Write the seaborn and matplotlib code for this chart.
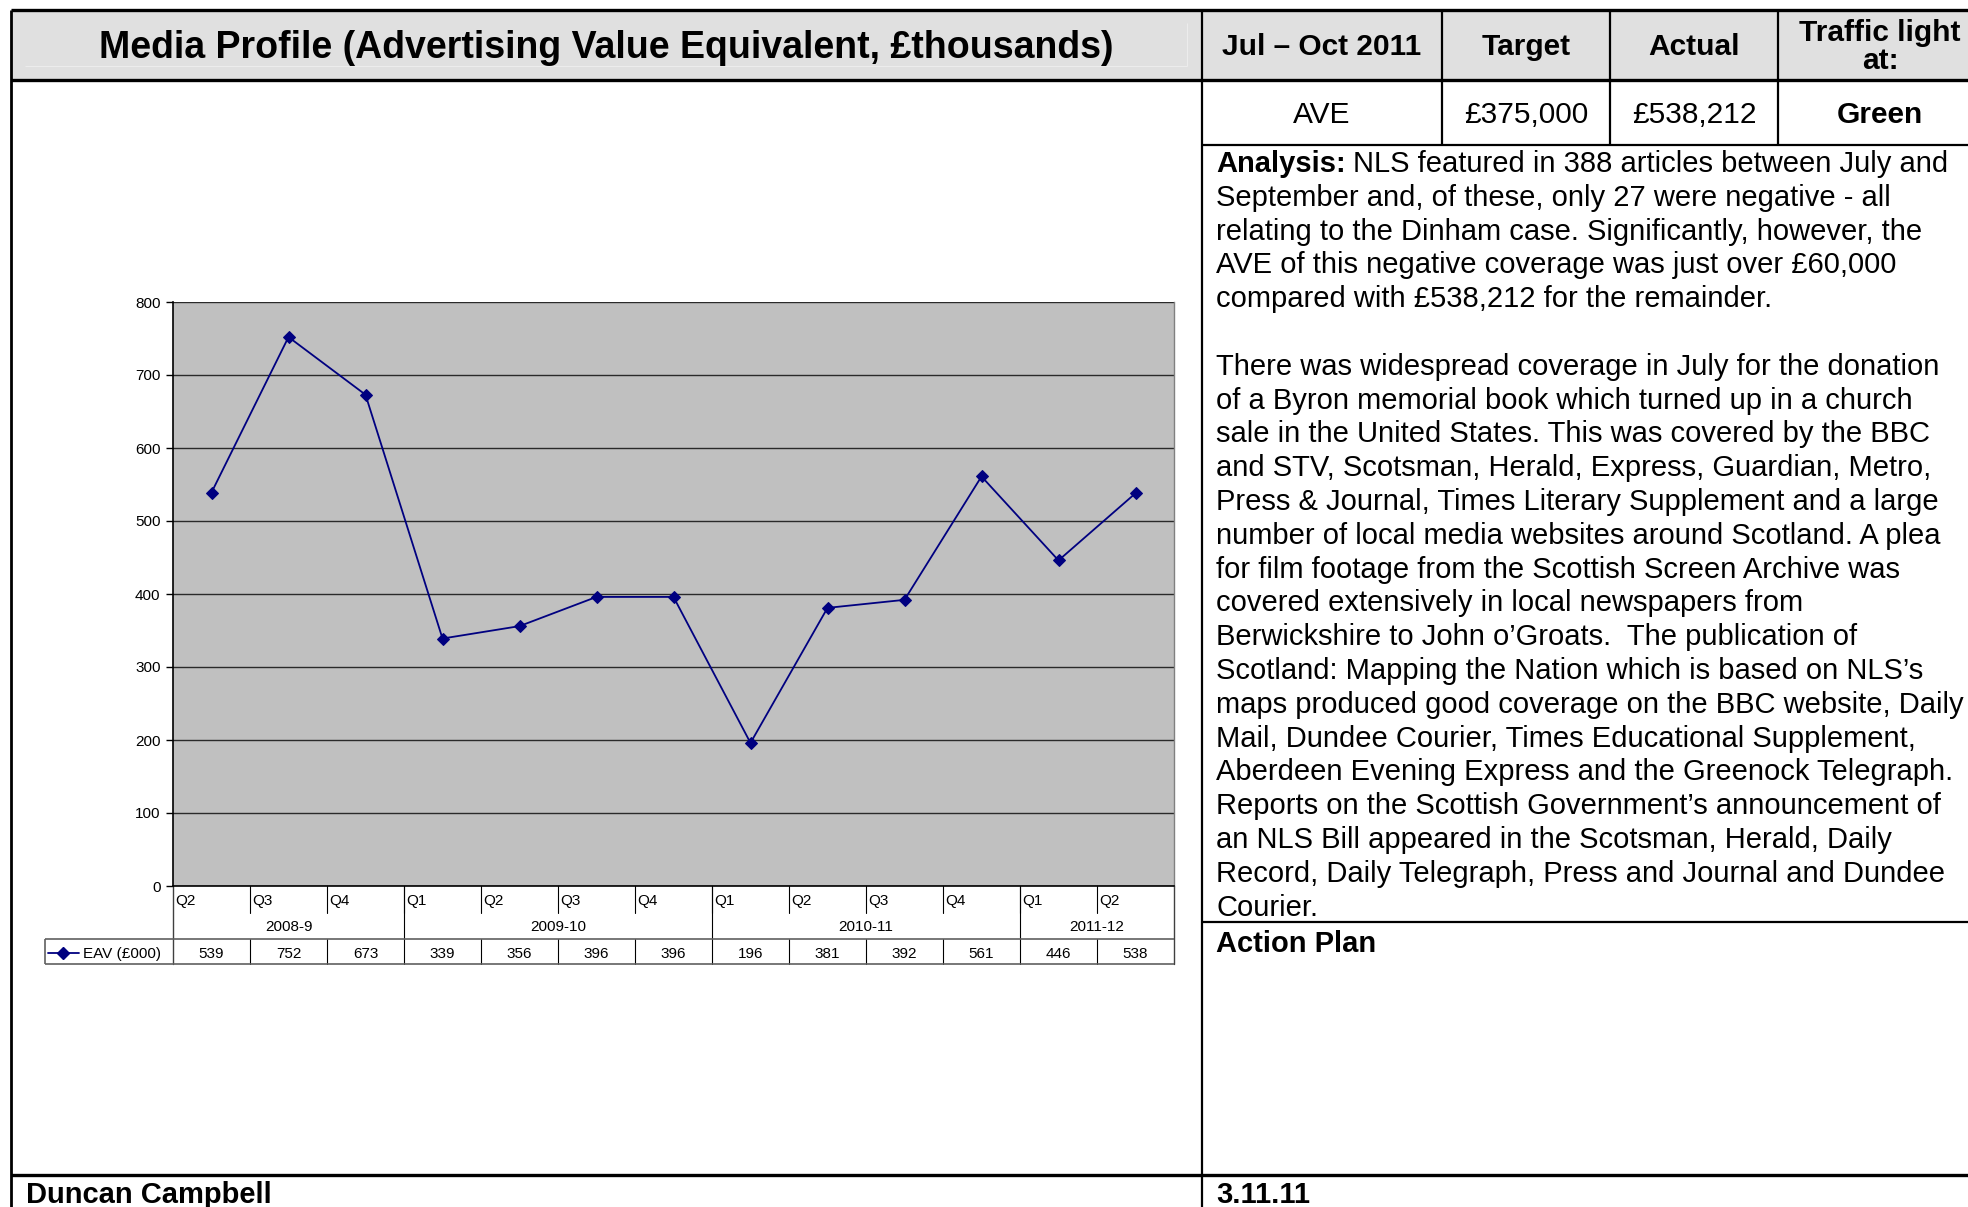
import numpy as np
import pandas as pd
import matplotlib
matplotlib.use("Agg")
import matplotlib.pyplot as plt
from matplotlib.patches import Rectangle
from matplotlib.lines import Line2D
from matplotlib.transforms import blended_transform_factory
import seaborn as sns

# data
quarters = ["Q2", "Q3", "Q4", "Q1", "Q2", "Q3", "Q4", "Q1", "Q2", "Q3", "Q4", "Q1", "Q2"]
years = ["2008-9", "2009-10", "2010-11", "2011-12"]
year_span = [3, 4, 4, 2]
eav = [539, 752, 673, 339, 356, 396, 396, 196, 381, 392, 561, 446, 538]
series_name = "EAV (£000)"

header_cols = ["Jul – Oct 2011", "Target", "Actual", "Traffic light\nat:"]
row_vals = ["AVE", "£375,000", "£538,212", "Green"]

analysis_lines = [
    "NLS featured in 388 articles between July and",
    "September and, of these, only 27 were negative - all",
    "relating to the Dinham case. Significantly, however, the",
    "AVE of this negative coverage was just over £60,000",
    "compared with £538,212 for the remainder.",
    "",
    "There was widespread coverage in July for the donation",
    "of a Byron memorial book which turned up in a church",
    "sale in the United States. This was covered by the BBC",
    "and STV, Scotsman, Herald, Express, Guardian, Metro,",
    "Press & Journal, Times Literary Supplement and a large",
    "number of local media websites around Scotland. A plea",
    "for film footage from the Scottish Screen Archive was",
    "covered extensively in local newspapers from",
    "Berwickshire to John o’Groats.  The publication of",
    "Scotland: Mapping the Nation which is based on NLS’s",
    "maps produced good coverage on the BBC website, Daily",
    "Mail, Dundee Courier, Times Educational Supplement,",
    "Aberdeen Evening Express and the Greenock Telegraph.",
    "Reports on the Scottish Government’s announcement of",
    "an NLS Bill appeared in the Scotsman, Herald, Daily",
    "Record, Daily Telegraph, Press and Journal and Dundee",
    "Courier.",
]

W, H = 1968, 1207
sns.set_theme(style="white")
plt.rcParams['font.family'] = ['Liberation Sans', 'DejaVu Sans']
plt.rcParams['text.color'] = 'black'
plt.rcParams['ytick.color'] = 'black'
plt.rcParams['xtick.color'] = 'black'

fig = plt.figure(figsize=(W / 100, H / 100), dpi=100)
fig.patch.set_facecolor("white")

# page overlay in pixel coordinates
page = fig.add_axes([0, 0, 1, 1])
page.set_xlim(0, W)
page.set_ylim(H, 0)
page.axis("off")


def box(x0, y0, x1, y1):
    return [x0 / W, 1 - y1 / H, (x1 - x0) / W, (y1 - y0) / H]


def hline(y, x0, x1, lw=1.5, color="black"):
    page.add_line(Line2D([x0, x1], [y, y], lw=lw, color=color, solid_capstyle="butt"))


def vline(x, y0, y1, lw=1.5, color="black"):
    page.add_line(Line2D([x, x], [y0, y1], lw=lw, color=color, solid_capstyle="butt"))


# header band and frame
page.add_patch(Rectangle((11, 10), W - 11, 70, facecolor="#e0e0e0", edgecolor="none"))
hline(66, 25, 1187, lw=0.8, color="#ececec")
vline(1187, 23, 66, lw=0.8, color="#ececec")
hline(10, 11, W, lw=2.4)
hline(80, 11, W, lw=2.4)
vline(11, 10, H, lw=2.0)
vline(1202, 10, H, lw=1.6)
for cx in [1442, 1610, 1778]:
    vline(cx, 10, 145, lw=1.6)
hline(145, 1202, W, lw=1.6)
hline(922, 1202, W, lw=1.6)
hline(1175, 11, W, lw=2.4)

page.text(606, 48, "Media Profile (Advertising Value Equivalent, £thousands)",
          ha="center", va="center", fontsize=27, fontweight="bold")
col_centers = [1322, 1526, 1694, 1880]
for cx, lab in zip(col_centers, header_cols):
    page.text(cx, 47, lab, ha="center", va="center", fontsize=21.5,
              fontweight="bold", linespacing=1.0)
for cx, val in zip(col_centers, row_vals):
    page.text(cx, 115, val, ha="center", va="center", fontsize=21.5,
              fontweight="bold" if val == "Green" else "normal")

# analysis text
renderer = fig.canvas.get_renderer()
tx, ty, step = 1216, 164, 33.8
lead = page.text(tx, ty, "Analysis:", ha="left", va="center", fontsize=21, fontweight="bold")
bb = lead.get_window_extent(renderer=renderer)
page.text(tx + bb.width + 7, ty, analysis_lines[0], ha="left", va="center", fontsize=21)
for i, line in enumerate(analysis_lines[1:], start=1):
    page.text(tx, ty + i * step, line, ha="left", va="center", fontsize=21)

page.text(1216, 944, "Action Plan", ha="left", va="center", fontsize=21, fontweight="bold")
page.text(26, 1195, "Duncan Campbell", ha="left", va="center", fontsize=21, fontweight="bold")
page.text(1216, 1195, "3.11.11", ha="left", va="center", fontsize=21, fontweight="bold")

# line chart
ax = fig.add_axes(box(173, 302, 1174, 886))
df = pd.DataFrame({"pos": np.arange(len(eav)), series_name: eav})
sns.lineplot(data=df, x="pos", y=series_name, ax=ax, color="#000080",
             marker="D", markersize=6, markeredgecolor="#000080", linewidth=1.3)
ax.set_xlim(-0.5, len(eav) - 0.5)
ax.set_ylim(0, 800)
ax.set_facecolor("#c0c0c0")
ax.set_yticks(range(0, 801, 100))
ax.set_xticks([])
ax.set_xlabel("")
ax.set_ylabel("")
ax.yaxis.grid(True, color="#2a2a2a", linewidth=1.0)
ax.set_axisbelow(True)
ax.tick_params(axis="y", left=True, length=5, width=1, color="black",
               labelcolor="black", labelsize=11, pad=4)
for side in ["left", "bottom"]:
    ax.spines[side].set_color("black")
    ax.spines[side].set_linewidth(1.2)
ax.spines["top"].set_visible(False)
ax.spines["right"].set_color("#808080")
ax.spines["right"].set_linewidth(1.0)

# category table below the chart (x from the chart's scale, y in pixels)
T = blended_transform_factory(ax.transData, page.transData)
n = len(eav)
edges = np.arange(n + 1) - 0.5
for i, q in enumerate(quarters):
    page.text(edges[i] + 0.03, 901, q, transform=T, ha="left", va="center", fontsize=11)
for e in edges[1:-1]:
    page.add_line(Line2D([e, e], [886, 913], transform=T, color="black", lw=0.8))
bounds = np.cumsum([0] + year_span) - 0.5
for k, yr in enumerate(years):
    mid = (bounds[k] + bounds[k + 1]) / 2
    page.text(mid, 927, yr, transform=T, ha="center", va="center", fontsize=11)
for b in bounds[1:-1]:
    page.add_line(Line2D([b, b], [886, 939], transform=T, color="black", lw=0.8))
for b in [bounds[0], bounds[-1]]:
    page.add_line(Line2D([b, b], [886, 964], transform=T, color="#404040", lw=1.0))
for e in edges[1:-1]:
    page.add_line(Line2D([e, e], [939, 964], transform=T, color="black", lw=0.8))
for i, v in enumerate(eav):
    page.text(i, 954, str(v), transform=T, ha="center", va="center", fontsize=11)

hline(939, 45, 1174, lw=1.2, color="#606060")
hline(964, 45, 1174, lw=1.2, color="#606060")
vline(45, 939, 964, lw=1.2, color="#606060")
page.add_line(Line2D([48, 79], [953, 953], color="#000080", lw=1.3))
page.plot([63], [953], marker="D", markersize=6, color="#000080")
page.text(83, 954, series_name, ha="left", va="center", fontsize=11)

fig.savefig("out.png", dpi=100)
